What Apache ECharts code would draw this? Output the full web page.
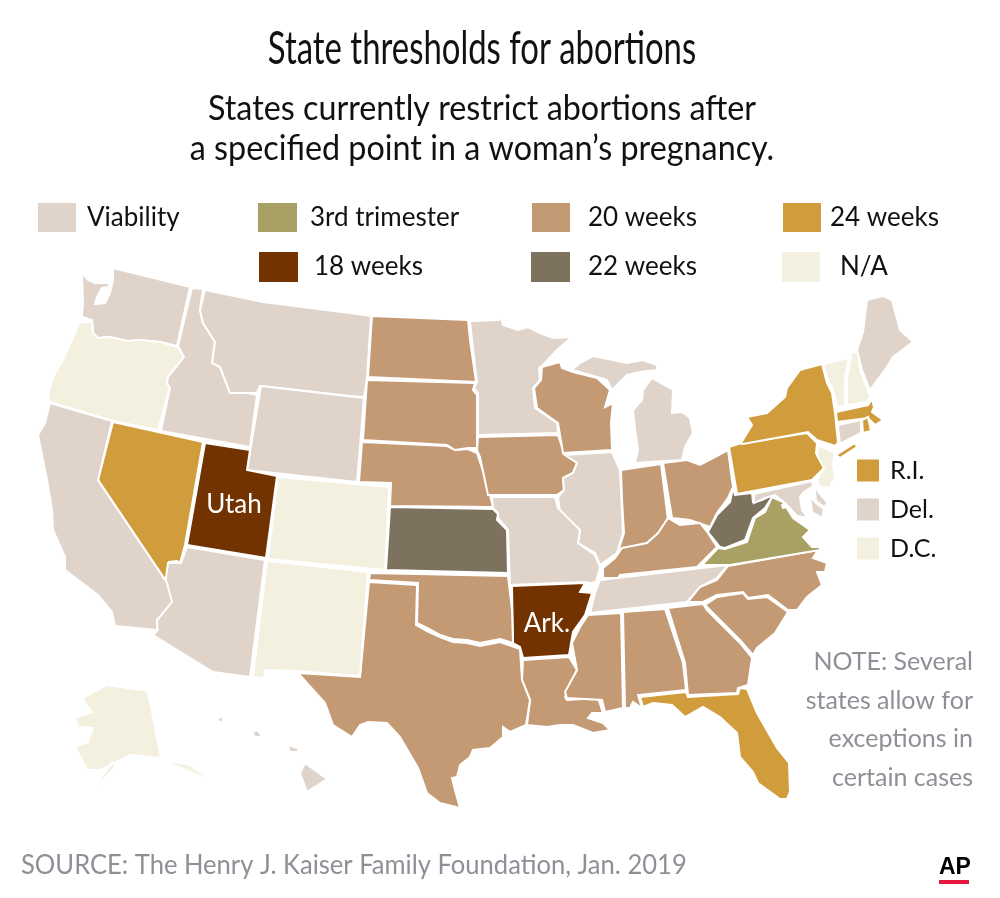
<!DOCTYPE html>
<html>
<head>
<meta charset="utf-8">
<title>State thresholds for abortions</title>
<script src="https://cdn.jsdelivr.net/npm/echarts@6/dist/echarts.min.js"></script>
<style>
  html, body { margin: 0; padding: 0; background: #fff; }
  #main { width: 1000px; height: 898px; }
</style>
</head>
<body>
<div id="main"></div>
<script>
// threshold groups, same order as the key
var categories = ['Viability', '3rd trimester', '20 weeks', '24 weeks', '18 weeks', '22 weeks', 'N/A'];
var colors = ['#e0d3ca', '#a9a063', '#c49a74', '#d19c3c', '#723300', '#7d725e', '#f3f0df'];

var viability = ['Washington', 'Idaho', 'Montana', 'Wyoming', 'California', 'Arizona', 'Minnesota', 'Michigan', 'Illinois', 'Missouri', 'Tennessee', 'Connecticut', 'Maine', 'Maryland', 'Hawaii', 'Delaware'];
var thirdTrimester = ['Virginia'];
var weeks20 = ['North Dakota', 'South Dakota', 'Nebraska', 'Iowa', 'Wisconsin', 'Oklahoma', 'Texas', 'Louisiana', 'Mississippi', 'Alabama', 'Georgia', 'South Carolina', 'North Carolina', 'Kentucky', 'Indiana', 'Ohio'];
var weeks24 = ['Nevada', 'New York', 'Pennsylvania', 'Massachusetts', 'Florida', 'Rhode Island'];
var weeks18 = ['Utah', 'Arkansas'];
var weeks22 = ['Kansas', 'West Virginia'];
var notApplicable = ['Oregon', 'Colorado', 'New Mexico', 'Alaska', 'Vermont', 'New Hampshire', 'New Jersey', 'District of Columbia'];
var groups = [viability, thirdTrimester, weeks20, weeks24, weeks18, weeks22, notApplicable];

// small states keyed separately beside the map
var sideKey = ['R.I.', 'Del.', 'D.C.'];
var sideKeyColors = ['#d19c3c', '#e0d3ca', '#f3f0df'];

var stateLabels = { 'Utah': 'Utah', 'Arkansas': 'Ark.' };

// state outlines, x/y in page pixels
var shapes = {
  'Washington': [[[82,273],[88,280],[95,283],[109,283],[109,287],[102,288],[97,297],[95,304],[105,303],[110,293],[113,280],[113,268],[190,287],[177,346],[160,342],[140,340],[127,341],[110,337],[98,338],[93,333],[92,320],[82,317],[83,303]]],
  'Oregon': [[[80,322],[92,322],[93,333],[98,338],[110,337],[127,341],[140,340],[160,342],[178,347],[184,357],[168,377],[167,383],[170,387],[158,430],[113,421],[50,402],[48,395],[53,377],[63,360],[72,340]]],
  'Idaho': [[[192,288],[203,289],[200,310],[203,323],[215,342],[212,363],[220,367],[230,393],[247,393],[257,395],[250,447],[161,431],[170,388],[167,383],[168,377],[184,357],[178,346]]],
  'Montana': [[[205,290],[263,302],[350,313],[371,316],[367,378],[364,397],[350,396],[260,386],[257,393],[247,393],[230,393],[220,367],[212,363],[215,342],[203,323],[200,310]]],
  'Wyoming': [[[261,386],[364,398],[357,482],[247,470]]],
  'Nevada': [[[113,422],[203,442],[185,545],[180,563],[177,561],[169,562],[166,581],[98,480]]],
  'Utah': [[[205,443],[250,450],[247,470],[277,476],[266,558],[187,545]]],
  'Colorado': [[[278,477],[389,487],[385,570],[268,559]]],
  'Kansas': [[[390,507],[493,509],[498,514],[497,520],[507,530],[508,573],[386,570]]],
  'Nebraska': [[[362,442],[447,446],[455,450],[468,449],[477,453],[487,483],[493,507],[390,506],[391,483],[359,482]]],
  'South Dakota': [[[367,380],[475,383],[473,390],[477,395],[477,448],[468,448],[455,450],[447,445],[363,440]]],
  'North Dakota': [[[372,316],[468,320],[470,340],[476,382],[368,377]]],
  'Minnesota': [[[470,321],[499,320],[500,313],[503,325],[518,330],[528,327],[540,333],[553,338],[572,337],[557,350],[543,365],[539,368],[540,380],[533,388],[535,408],[557,423],[558,433],[478,435],[478,393],[474,388],[477,382],[472,340]]],
  'Iowa': [[[478,437],[558,435],[563,450],[577,463],[573,473],[563,478],[564,490],[557,495],[488,495],[480,457],[477,450]]],
  'Wisconsin': [[[542,367],[560,362],[562,368],[573,372],[597,378],[610,390],[605,407],[613,403],[611,423],[612,450],[563,453],[558,423],[537,408],[534,388],[541,380]]],
  'Illinois': [[[565,455],[612,452],[620,470],[623,533],[617,553],[600,565],[595,553],[578,543],[580,530],[560,512],[558,497],[564,490],[563,478],[573,473],[577,463]]],
  'Missouri': [[[492,497],[555,497],[558,508],[580,530],[578,543],[595,555],[600,567],[596,582],[590,583],[585,582],[510,585],[508,530],[498,518],[498,513],[493,508]]],
  'Arkansas': [[[512,586],[585,583],[580,592],[592,593],[585,615],[573,632],[569,655],[523,658],[520,647],[513,643]]],
  'Louisiana': [[[523,660],[569,657],[577,670],[565,697],[567,700],[598,698],[603,713],[592,713],[588,718],[603,723],[610,730],[593,733],[573,725],[560,725],[547,727],[527,725],[530,700],[522,680]]],
  'Oklahoma': [[[370,573],[508,576],[512,610],[513,643],[500,639],[480,643],[467,640],[453,639],[440,635],[427,628],[417,623],[418,583],[369,580]]],
  'Texas': [[[369,582],[417,585],[416,625],[427,631],[440,637],[453,642],[467,643],[480,646],[500,642],[520,649],[522,680],[530,700],[526,725],[510,732],[503,727],[503,737],[490,748],[473,750],[470,757],[460,765],[457,777],[452,778],[455,790],[460,808],[440,803],[427,793],[418,768],[400,737],[387,723],[368,722],[360,725],[352,737],[333,725],[325,703],[298,673],[360,677]]],
  'New Mexico': [[[267,561],[368,572],[360,676],[297,671],[265,670],[264,678],[253,677]]],
  'Arizona': [[[187,547],[265,560],[250,677],[213,672],[153,635],[158,630],[156,622],[170,602],[165,585],[168,563],[177,563],[181,563]]],
  'California': [[[50,403],[112,421],[98,480],[167,583],[172,602],[157,620],[157,630],[115,626],[112,612],[98,595],[65,570],[65,557],[53,530],[52,510],[47,480],[38,435],[45,423]]],
  'Michigan': [[[572,370],[580,363],[593,356],[603,358],[627,363],[643,360],[657,365],[657,370],[640,372],[627,375],[612,390],[607,380],[597,377]],
    [[652,378],[673,390],[672,413],[682,412],[690,418],[693,433],[685,447],[682,460],[635,463],[638,450],[635,430],[633,410],[642,400],[643,390]]],
  'Indiana': [[[621,470],[661,464],[668,520],[657,535],[647,543],[633,548],[618,552],[624,533],[622,500]]],
  'Ohio': [[[663,463],[687,460],[700,465],[728,450],[733,487],[728,498],[717,513],[710,527],[690,520],[672,518]]],
  'Kentucky': [[[668,518],[680,525],[700,523],[708,533],[717,547],[697,567],[620,575],[618,578],[603,578],[603,568],[615,558],[622,548],[647,543],[658,533]]],
  'Tennessee': [[[600,580],[728,565],[717,578],[700,587],[687,602],[590,613],[595,593]]],
  'Mississippi': [[[588,615],[621,613],[623,708],[605,712],[602,700],[567,698],[565,692],[577,670],[572,643],[580,627]]],
  'Alabama': [[[623,612],[665,609],[683,663],[686,690],[638,695],[642,708],[633,702],[630,708],[625,708]]],
  'Georgia': [[[668,608],[703,604],[707,610],[740,643],[752,658],[748,685],[738,688],[737,693],[688,695],[685,663]]],
  'Florida': [[[640,697],[686,692],[688,697],[738,694],[740,688],[747,689],[757,713],[777,748],[789,763],[790,792],[787,799],[780,799],[758,783],[753,772],[740,757],[737,733],[720,717],[703,707],[685,717],[672,705],[653,703],[643,707]]],
  'South Carolina': [[[705,605],[717,597],[743,593],[748,599],[767,597],[788,612],[775,633],[757,648],[753,655],[740,640]]],
  'North Carolina': [[[728,566],[818,550],[813,558],[827,563],[825,572],[817,572],[822,585],[807,597],[797,610],[788,610],[768,595],[748,598],[743,592],[717,595],[703,602],[688,602],[700,587],[717,580]]],
  'Virginia': [[[702,565],[718,548],[725,549],[747,542],[755,518],[765,512],[772,497],[783,502],[793,518],[810,530],[803,537],[812,547],[820,547],[820,550],[730,565]]],
  'West Virginia': [[[733,488],[735,495],[752,493],[753,502],[762,500],[772,495],[778,493],[782,497],[772,497],[765,508],[753,518],[745,540],[725,548],[720,547],[708,532],[717,515],[730,502]]],
  'Pennsylvania': [[[729,447],[738,444],[807,433],[817,443],[816,453],[824,468],[812,480],[737,494]]],
  'New York': [[[741,443],[752,425],[747,417],[767,413],[785,397],[787,388],[800,370],[822,364],[827,383],[832,393],[835,413],[838,443],[835,446],[817,440],[808,432],[743,444]],
    [[836,455],[855,443],[857,447],[840,458]]],
  'Vermont': [[[823,364],[849,358],[845,377],[845,405],[837,407],[833,390],[828,380]]],
  'New Hampshire': [[[852,352],[858,352],[860,370],[870,397],[867,402],[847,405],[847,377]]],
  'Maine': [[[857,350],[863,332],[867,300],[883,296],[892,300],[900,330],[913,342],[893,357],[887,367],[870,390],[862,370]]],
  'Massachusetts': [[[836,412],[868,405],[872,399],[874,407],[872,412],[883,420],[875,425],[868,418],[837,422]]],
  'Rhode Island': [[[862,420],[868,417],[871,431],[863,433]]],
  'Connecticut': [[[838,425],[861,420],[861,433],[840,444]]],
  'New Jersey': [[[818,445],[835,453],[833,463],[835,477],[830,488],[820,487],[817,480],[824,468],[817,455]]],
  'Maryland': [[[754,494],[812,481],[813,486],[804,492],[800,497],[802,510],[808,518],[797,516],[785,503],[775,495],[765,498],[754,503]],
    [[810,497],[816,503],[824,509],[822,518],[812,512]]],
  'Delaware': [[[814,484],[819,493],[828,503],[824,507],[816,501]]],
  'District of Columbia': [[[782,505],[785,504],[786,507],[783,508]]],
  'Alaska': [[[82,698],[107,685],[148,691],[161,758],[130,755],[115,763],[100,770],[87,770],[75,747],[88,742],[93,728],[78,727],[75,718],[92,712]],
    [[161,759],[190,765],[212,782],[188,771]],
    [[112,762],[90,794],[116,766]]],
  'Hawaii': [[[305,763],[327,779],[307,792],[300,773]],
    [[287,745],[298,748],[298,752],[290,752]],
    [[252,732],[258,730],[262,737],[255,737]],
    [[217,718],[223,717],[223,722],[219,722]]]
};

var labelPoints = { 'Utah': [234, 505], 'Arkansas': [547, 624] };

// page y runs down, geo y runs up
var minX = 1e9, maxX = -1e9, minY = 1e9, maxY = -1e9;
var features = Object.keys(shapes).map(function (name) {
  var polys = shapes[name].map(function (ring) {
    var pts = ring.map(function (p) {
      minX = Math.min(minX, p[0]); maxX = Math.max(maxX, p[0]);
      minY = Math.min(minY, p[1]); maxY = Math.max(maxY, p[1]);
      return [p[0], -p[1]];
    });
    pts.push(pts[0]);
    return [pts];
  });
  var props = { name: name };
  if (labelPoints[name]) props.cp = [labelPoints[name][0], -labelPoints[name][1]];
  return { type: 'Feature', properties: props, geometry: { type: 'MultiPolygon', coordinates: polys } };
});
echarts.registerMap('usStates', { type: 'FeatureCollection', features: features });

var mapData = [];
groups.forEach(function (states, i) {
  states.forEach(function (name) {
    var item = { name: name, value: i, itemStyle: { areaColor: colors[i] } };
    if (stateLabels[name]) {
      item.label = { show: true, formatter: stateLabels[name] };
    }
    mapData.push(item);
  });
});

// key swatches come from this zero-radius pie
var keyData = categories.map(function (name, i) {
  return { name: name, value: groups[i].length, itemStyle: { color: colors[i] } };
}).concat(sideKey.map(function (name, i) {
  return { name: name, value: 1, itemStyle: { color: sideKeyColors[i] } };
}));

function keyItem(name, left, top, size, textGap, w, h) {
  return {
    left: left, top: top, padding: 0,
    orient: 'horizontal', selectedMode: false,
    data: [name], icon: 'rect', itemWidth: w, itemHeight: h,
    textStyle: { fontFamily: 'Lato', fontSize: size, color: '#111', padding: [0, 0, 0, textGap] }
  };
}

var chart = echarts.init(document.getElementById('main'), null, { renderer: 'canvas' });
chart.setOption({
  backgroundColor: '#fff',
  animation: false,
  title: [
    { text: 'NOTE: Several\nstates allow for\nexceptions in\ncertain cases', left: 973, top: 643, padding: 0, textAlign: 'right',
      textStyle: { fontFamily: 'Lato', fontSize: 25, fontWeight: 400, color: '#8d9096', lineHeight: 38.5 } },
    { text: 'AP', left: 939, top: 856, padding: 0,
      textStyle: { fontFamily: 'Liberation Sans', fontSize: 23, fontWeight: 900, color: '#000' } }
  ],
  legend: [
    keyItem('Viability', 38, 203, 26, 6, 38, 29),
    keyItem('3rd trimester', 258, 203, 26, 8, 39, 29),
    keyItem('20 weeks', 532, 203, 26, 13, 38, 29),
    keyItem('24 weeks', 783, 203, 26, 4, 38, 29),
    keyItem('18 weeks', 259, 252, 26, 11, 39, 30),
    keyItem('22 weeks', 531, 252, 26, 13, 39, 30),
    keyItem('N/A', 782, 252, 26, 15, 38, 30),
    keyItem('R.I.', 857, 458, 25, 6, 22, 22),
    keyItem('Del.', 857, 497, 25, 6, 22, 22),
    keyItem('D.C.', 857, 536, 25, 6, 22, 22)
  ],
  // the original type is condensed, so these are squeezed horizontally
  graphic: [
    { type: 'text', x: 482, y: 49, scaleX: 0.715, silent: true,
      style: { text: 'State thresholds for abortions', fontFamily: 'Lato', fontSize: 46, fill: '#111', align: 'center', verticalAlign: 'middle' } },
    { type: 'text', x: 482, y: 129, scaleX: 0.95, silent: true,
      style: { text: 'States currently restrict abortions after\na specified point in a woman\u2019s pregnancy.', fontFamily: 'Lato', fontSize: 34, lineHeight: 40, fill: '#111', align: 'center', verticalAlign: 'middle' } },
    { type: 'text', x: 21, y: 865, scaleX: 0.947, silent: true,
      style: { text: 'SOURCE: The Henry J. Kaiser Family Foundation, Jan. 2019', fontFamily: 'Lato', fontSize: 27, fill: '#8d9096', align: 'left', verticalAlign: 'middle' } },
    { type: 'rect', shape: { x: 939, y: 880, width: 30, height: 4 }, silent: true, style: { fill: '#e5173f' } }
  ],
  series: [
    {
      type: 'map', map: 'usStates', aspectScale: 1, silent: true, showLegendSymbol: false,
      left: minX, top: minY, width: maxX - minX, height: maxY - minY,
      itemStyle: { borderColor: '#fff', borderWidth: 2, areaColor: '#fff' },
      label: { show: false, color: '#fff', fontFamily: 'Lato', fontSize: 26 },
      data: mapData
    },
    {
      type: 'pie', name: 'key', radius: 0, center: [-10, -10], silent: true,
      label: { show: false }, labelLine: { show: false },
      data: keyData
    }
  ]
});
</script>
</body>
</html>
